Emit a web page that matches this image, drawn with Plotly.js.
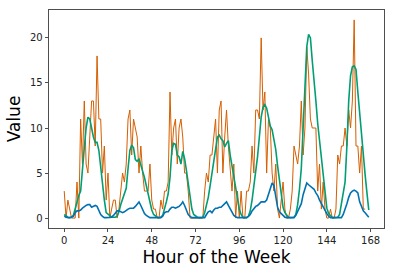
<!DOCTYPE html>
<html>
<head>
<meta charset="utf-8">
<script src="https://cdn.plot.ly/plotly-3.0.1.min.js"></script>
<style>html,body{margin:0;padding:0;background:#fff;}#chart{width:394px;height:274px;}</style>
</head>
<body>
<div id="chart"></div>
<script>
// Hour of the week 0..167
const hours = Array.from({length: 168}, (_, i) => i);

// Raw observed values (orange)
const rawValues = [
  3,0,2,1,0,0,0,4,0,11,6,13,6,5,9,13,13,8,18,11,11,5,8,2,
  5,0,1,2,2,0,1,3,5,4,6,11,12,7,11,10,9,5,8,5,3,3,3,6,
  2,1,1,0,0,2,1,3,3,4,14,7,10,11,6,10,11,9,5,5,3,0,0,0,
  0,0,0,0,0,3,5,4,7,7,9,11,5,12,13,5,9,12,8,5,3,6,0,3,
  0,3,0,0,3,3,4,8,5,12,12,11,20,12,14,5,11,10,5,3,6,1,0,2,
  4,1,0,0,1,3,8,7,6,8,13,7,10,19,16,11,10,10,10,3,6,1,4,1,
  0,0,1,0,0,1,7,6,8,8,10,8,12,10,13,22,8,8,5,8,1,1
];

// Smoothed series (green)
const smoothValues = [
  0.4,0.2,0.1,0.05,0.1,0.3,1.0,2.0,2.5,3.0,5.0,7.8,10.0,11.2,11.0,9.8,9.0,8.4,8.4,7.5,5.5,4.0,2.0,0.6,
  0.4,0.2,0.1,0.1,0.1,0.2,0.7,1.5,2.1,2.6,3.3,5.5,7.5,8.1,7.8,6.5,6.3,6.6,6.0,5.2,4.5,3.5,2.5,1.5,
  0.9,0.4,0.2,0.1,0.05,0.1,0.3,1.0,1.8,2.7,4.5,7.5,8.3,8.2,7.0,6.8,6.0,7.4,6.6,5.3,3.8,2.3,1.0,0.4,
  0.2,0.1,0.05,0.05,0.1,0.6,1.5,2.3,3.6,5.0,6.5,8.0,9.0,9.2,8.8,8.6,7.9,8.3,8.6,7.0,5.8,4.8,3.2,2.0,
  1.0,0.4,0.1,0.05,0.05,0.2,0.8,2.0,3.5,5.0,6.8,9.0,11.2,12.3,12.6,12.2,11.0,10.2,9.8,8.8,7.6,5.8,4.2,2.2,
  1.2,0.6,0.3,0.1,0.05,0.05,0.1,0.4,1.5,3.2,5.5,10.0,14.5,19.0,20.4,20.0,17.5,15.5,13.0,10.5,8.5,6.5,4.5,2.5,
  1.1,0.5,0.2,0.05,0.05,0.05,0.1,0.4,1.5,2.5,4.0,8.0,13.0,15.8,16.8,16.9,16.5,14.0,11.5,9.0,6.5,4.8,2.8,0.9
];

// Second smoothed series (blue)
const lowValues = [
  0.2,0.1,0.05,0.05,0.1,0.2,0.6,0.8,0.8,0.9,1.1,1.3,1.4,1.5,1.5,1.2,1.3,1.4,1.3,0.9,0.4,0.2,0.05,0.05,
  0.05,0.05,0.1,0.3,0.6,0.8,0.8,0.7,0.6,0.7,0.9,1.0,1.1,1.1,1.1,1.3,1.6,1.8,1.4,0.9,0.5,0.3,0.15,0.05,
  0.05,0.05,0.05,0.05,0.05,0.05,0.2,0.6,0.7,0.7,1.0,1.2,1.2,1.1,1.2,1.3,1.5,1.8,1.4,0.9,0.4,0.2,0.05,0.05,
  0.05,0.05,0.05,0.05,0.05,0.05,0.4,0.7,0.8,0.6,0.9,1.1,1.1,1.2,1.2,1.4,1.5,1.8,1.4,1.0,0.7,0.3,0.15,0.05,
  0.05,0.05,0.05,0.05,0.05,0.2,0.4,0.8,1.1,1.3,1.4,1.6,1.8,1.8,1.8,2.0,2.6,3.2,3.9,3.6,2.2,1.2,0.7,0.5,
  0.3,0.1,0.05,0.05,0.05,0.05,0.05,0.3,0.7,1.2,1.6,2.6,3.3,3.9,3.7,3.5,3.4,3.2,2.8,2.5,2.0,1.6,1.3,0.9,
  0.5,0.2,0.05,0.05,0.05,0.05,0.05,0.05,0.05,0.4,0.9,1.6,2.3,2.8,3.0,3.1,3.0,2.8,1.8,1.2,0.8,0.6,0.3,0.1
];

const xTicks = [0, 24, 48, 72, 96, 120, 144, 168];
const yTicks = [0, 5, 10, 15, 20];

const traces = [
  {x: hours, y: rawValues, type: 'scatter', mode: 'lines', line: {color: '#D55E00', width: 1}, hoverinfo: 'skip'},
  {x: hours, y: smoothValues, type: 'scatter', mode: 'lines', line: {color: '#009E73', width: 1.6}, hoverinfo: 'skip'},
  {x: hours, y: lowValues, type: 'scatter', mode: 'lines', line: {color: '#0072B2', width: 1.6}, hoverinfo: 'skip'}
];

const axisCommon = {
  showgrid: false, zeroline: false, showline: true, mirror: true,
  linecolor: '#222', linewidth: 0.8, ticks: 'outside', ticklen: 3.5, tickwidth: 0.8,
  tickcolor: '#222', tickfont: {family: 'DejaVu Sans', size: 10, color: '#222'}, automargin: false
};

const layout = {
  width: 394, height: 274,
  margin: {l: 49, r: 10, t: 10, b: 46},
  paper_bgcolor: '#fff', plot_bgcolor: '#fff',
  showlegend: false,
  xaxis: Object.assign({}, axisCommon, {
    range: [-8.35, 175.35], tickvals: xTicks, ticktext: xTicks.map(String),
    title: {text: 'Hour of the Week', font: {family: 'DejaVu Sans', size: 17, color: '#000'}, standoff: 5}
  }),
  yaxis: Object.assign({}, axisCommon, {
    automargin: true,
    range: [-1.1, 23.1], tickvals: yTicks, ticktext: yTicks.map(String),
    title: {text: 'Value', font: {family: 'DejaVu Sans', size: 17, color: '#000'}, standoff: 4}
  })
};

Plotly.newPlot('chart', traces, layout, {staticPlot: true, displayModeBar: false});
</script>
</body>
</html>
